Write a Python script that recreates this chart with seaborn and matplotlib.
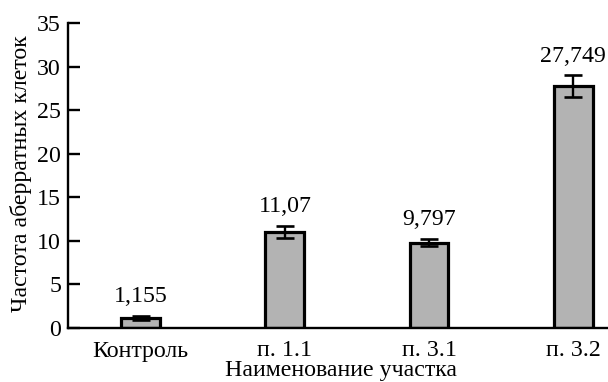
import matplotlib
matplotlib.use("Agg")
import matplotlib.pyplot as plt
import seaborn as sns
import pandas as pd

categories = ["Контроль", "п. 1.1", "п. 3.1", "п. 3.2"]
values = [1.155, 11.07, 9.797, 27.749]
errors = [0.27, 0.69, 0.44, 1.25]
y_ticks = [0, 5, 10, 15, 20, 25, 30, 35]

sns.set_theme(style="ticks")
plt.rcParams["font.family"] = ["Liberation Serif", "DejaVu Serif"]
FS = 17.2
plt.rcParams["font.size"] = FS

df = pd.DataFrame({"site": categories, "freq": values})

W, H = 608, 382
left, right, top, bottom = 68, 608, 23, 328
fig = plt.figure(figsize=(W / 100, H / 100), dpi=100)
ax = fig.add_axes([left / W, 1 - bottom / H, (right - left) / W, (bottom - top) / H])

sns.barplot(data=df, x="site", y="freq", ax=ax, color="#b3b3b3",
            saturation=1, width=0.27, edgecolor="black", linewidth=2.3,
            errorbar=None)

xs = list(range(len(categories)))
ax.errorbar(xs, values, yerr=errors, fmt="none", ecolor="black",
            elinewidth=1.7, capsize=6.5, capthick=1.9, zorder=5)

for x, v, e in zip(xs, values, errors):
    ax.annotate(str(v).replace(".", ","), (x, v + e), xytext=(0, 6),
                textcoords="offset points", ha="center", va="bottom",
                fontsize=FS, color="black")

ax.set_xlim(-0.505, 3.242)
ax.set_ylim(0, 35)
ax.set_yticks(y_ticks)
ax.tick_params(axis="y", direction="in", length=8.5, width=1.7,
               labelsize=FS, pad=5, colors="black")
ax.tick_params(axis="x", length=0, labelsize=FS, pad=9, colors="black")
for side in ("top", "right"):
    ax.spines[side].set_visible(False)
for side in ("left", "bottom"):
    ax.spines[side].set_linewidth(1.7)
    ax.spines[side].set_color("black")

ax.set_xlabel("Наименование участка", fontsize=FS, color="black")
ax.xaxis.label.set_va("baseline")
ax.xaxis.set_label_coords((341 - left) / (right - left), -(376 - bottom) / (bottom - top))

ax.set_ylabel("Частота аберратных клеток", fontsize=FS, color="black")
ax.yaxis.label.set_va("center")
ax.yaxis.set_label_coords(-(left - 21) / (right - left), (bottom - 174) / (bottom - top))

fig.savefig("out.png", dpi=100)
